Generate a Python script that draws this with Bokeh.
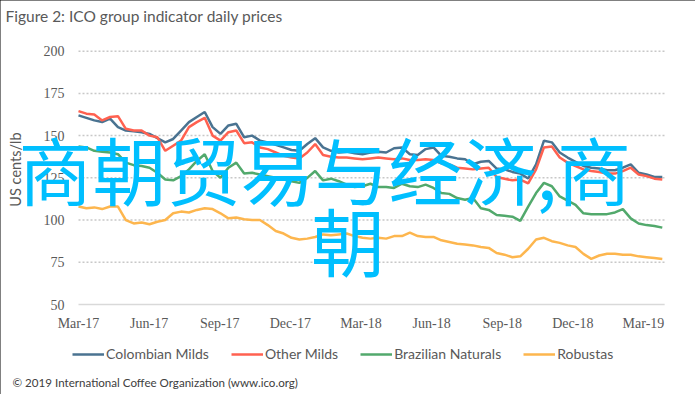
from bokeh.plotting import figure
from bokeh.models import Label, Legend, LegendItem, ColumnDataSource, Range1d
from bokeh.embed import file_html
from bokeh.resources import INLINE
from math import pi

title_text = "Figure 2: ICO group indicator daily prices"
y_title = "US cents/lb"
footer_text = "\u00a9 2019 International Coffee Organization (www.ico.org)"
overlay_line1 = "商朝贸易与经济,商"
overlay_line2 = "朝"

quarter_pos = [0, 3, 6, 9, 12, 15, 18, 21, 24]
quarter_labels = ["Mar-17", "Jun-17", "Sep-17", "Dec-17", "Mar-18",
                  "Jun-18", "Sep-18", "Dec-18", "Mar-19"]
y_ticks = [50, 75, 100, 125, 150, 175, 200]
y_tick_labels = ["50", "75", "100", "125", "150", "175", "200"]
plot_end = 24.9  # right end of the plotting area, in months since Mar-17

# time axis: months since March 2017 (roughly every 10 days)
months = [round(i * 24.8 / 74, 3) for i in range(75)]

colombian = [162, 160.5, 159, 158, 160, 155, 153, 152.5, 152, 151,
             148.5, 146, 148, 153, 158, 161, 164, 155, 151, 156,
             157, 149, 150, 147, 146, 144.5, 143, 141.5, 141, 145,
             148.5, 143, 141, 140, 140.5, 139.5, 139, 140, 140.5, 140,
             142.5, 143, 139, 138.5, 142, 143, 138, 137.5, 136.5, 136,
             133, 134.5, 135, 130.5, 130, 128.5, 127.5, 124.6, 133, 147,
             146, 140, 137, 134.5, 132, 131, 130.5, 129.5, 129.5, 131,
             133, 128, 127, 125.5, 125.5]

other_milds = [164.5, 163, 162.5, 159, 161, 161.5, 154, 153, 153, 150,
               149, 141, 144, 147, 155, 158, 160.5, 150, 147, 152,
               153, 145.5, 146, 143, 142, 140, 138, 137, 136.5, 140,
               145, 138.5, 137.5, 137, 137, 136.5, 136, 136.5, 137, 136.5,
               136, 136.5, 135.5, 135.5, 136, 135.5, 133.5, 133, 131, 130.5,
               130, 130.5, 131, 125.5, 124.5, 123.5, 124, 121.7, 130, 143,
               143.5, 137, 134, 132, 130, 129, 128.5, 127.5, 127.5, 129,
               131, 127, 126, 124.5, 124]

brazilian = [143.5, 143, 141, 140.5, 140, 139, 134, 132.5, 132, 131,
             128, 124, 123.5, 126, 130, 135, 139, 129, 125, 131,
             134, 127.5, 128, 127, 126, 125, 124, 123, 122, 125,
             129, 123.5, 124.5, 123, 121, 119.5, 120, 121.5, 119.5, 119.5,
             119, 121.5, 120, 119.5, 121, 119, 116, 115.5, 113, 112,
             113, 107, 106, 103, 102.5, 102, 99.5, 108, 116, 122,
             120, 114, 111.5, 109, 104, 103.5, 103.5, 103.5, 104.5, 106.5,
             101, 98, 97, 96.5, 95.5]

robustas = [108, 107, 107.5, 106.5, 108, 108, 100, 98, 98.5, 97.5,
            99, 100, 104, 105, 104.5, 106, 107, 106.5, 104, 101,
            101.5, 100.5, 100, 100, 97, 93.5, 92, 89.5, 88.5, 89,
            90, 91.5, 91, 91.5, 92, 90.5, 89.5, 89, 89.5, 89,
            90.5, 90.5, 92.5, 90.5, 90, 90, 88, 87, 86, 85.5,
            85, 84, 83.5, 80.5, 79.5, 78, 78.5, 83, 88.5, 89.5,
            87.5, 86.5, 85, 84, 80, 77, 79, 80, 80, 79.5,
            79.5, 78.5, 78, 77.5, 77]

series_names = ["Colombian Milds", "Other Milds", "Brazilian Naturals", "Robustas"]
series_values = [colombian, other_milds, brazilian, robustas]
series_colors = ["#4A7391", "#FF6150", "#52A96C", "#FDB64E"]

FONT = "Lato"
TXT = "#595959"

W, H = 695, 394
# pixel geometry of the plotting area inside the canvas
X0_PX, PX_PER_MONTH = 78.0, 23.54
Y50_PX, PX_PER_UNIT = 304.0, 1.689
x_start = -X0_PX / PX_PER_MONTH
y_start = y_ticks[0] - (H - Y50_PX) / PX_PER_UNIT

p = figure(width=W, height=H, output_backend="svg", toolbar_location=None,
           x_range=Range1d(x_start, x_start + W / PX_PER_MONTH),
           y_range=Range1d(y_start, y_start + H / PX_PER_UNIT),
           x_axis_location=None, y_axis_location=None,
           min_border=0)
p.grid.visible = False
p.outline_line_color = None
p.background_fill_color = "white"
p.border_fill_color = "white"
p.styles = {"outline": "2px solid black", "outline-offset": "-2px"}

# gridlines (dotted) and base line (solid)
grid_src = ColumnDataSource(dict(x0=[quarter_pos[0]] * (len(y_ticks) - 1),
                                 x1=[plot_end] * (len(y_ticks) - 1),
                                 y=y_ticks[1:]))
p.segment("x0", "y", "x1", "y", source=grid_src, line_color="#c8c8c8",
          line_width=1.5, line_dash="2 2")
p.segment(x0=[quarter_pos[0]], y0=[y_ticks[0]], x1=[plot_end], y1=[y_ticks[0]],
          line_color="#d9d9d9", line_width=1.5)

# tick labels
p.text(x=quarter_pos, y=[y_ticks[0]] * len(quarter_pos), text=quarter_labels,
       y_offset=19, text_align="center", text_baseline="middle",
       text_font="Lato", text_font_size="14px", text_color=TXT)
p.text(x=[quarter_pos[0]] * len(y_ticks), y=y_ticks, text=y_tick_labels,
       x_offset=-14, text_align="right", text_baseline="middle",
       text_font="Lato", text_font_size="14px", text_color=TXT)

items = []
for name, vals, col in zip(series_names, series_values, series_colors):
    src = ColumnDataSource(dict(x=months, y=vals))
    r = p.line("x", "y", source=src, line_color=col, line_width=2.5)
    items.append(LegendItem(label=name, renderers=[r]))

legend = Legend(items=items, orientation="horizontal", location=(72, 32),
                glyph_width=32, glyph_height=14, label_standoff=2, spacing=22,
                padding=0, margin=0, border_line_color=None,
                background_fill_alpha=0, label_text_font=FONT,
                label_text_font_size="14px", label_text_color=TXT,
                label_height=14)
p.add_layout(legend)

# texts (screen units from the canvas' bottom-left corner)
p.add_layout(Label(x=5, y=379, x_units="screen", y_units="screen", text=title_text,
                   text_font=FONT, text_font_size="15.5px", text_color=TXT,
                   text_baseline="middle"))
p.add_layout(Label(x=15, y=225, x_units="screen", y_units="screen", text=y_title,
                   angle=pi / 2, text_font=FONT, text_font_size="14.5px", text_color=TXT,
                   text_align="center", text_baseline="middle"))
p.add_layout(Label(x=12, y=12, x_units="screen", y_units="screen", text=footer_text,
                   text_font=FONT, text_font_size="11.6px", text_color="#404040",
                   text_baseline="middle"))
p.add_layout(Label(x=18, y=227, x_units="screen", y_units="screen", text=overlay_line1,
                   text_font="Noto Sans CJK SC", text_font_size="74px",
                   text_color="#00BFFF", text_baseline="middle"))
p.add_layout(Label(x=347.5, y=156, x_units="screen", y_units="screen", text=overlay_line2,
                   text_font="Noto Sans CJK SC", text_font_size="74px",
                   text_color="#00BFFF", text_baseline="middle", text_align="center"))

open("out.html", "w").write(file_html(p, INLINE))
